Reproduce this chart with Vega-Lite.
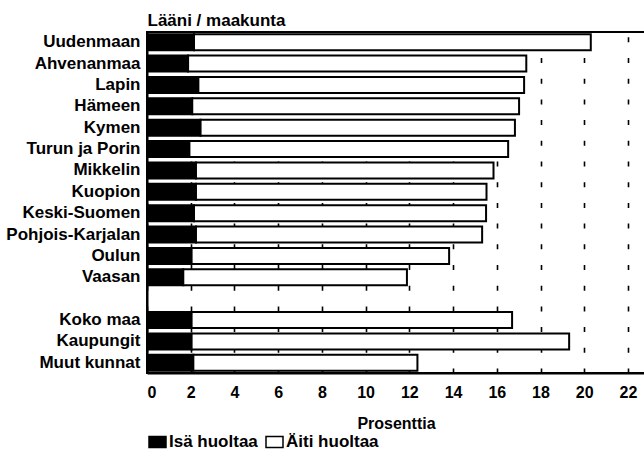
{
  "$schema": "https://vega.github.io/schema/vega-lite/v6.json",
  "width": 498,
  "height": 341,
  "autosize": {"type": "none"},
  "padding": {"left": 147, "top": 32, "right": 0, "bottom": 80},
  "background": "white",
  "config": {
    "view": {"stroke": "black", "strokeWidth": 2},
    "font": "Liberation Sans"
  },
  "data": {
    "values": [
      {"region": "Uudenmaan", "group": "Isä huoltaa", "value": 2.15},
      {"region": "Uudenmaan", "group": "Äiti huoltaa", "value": 18.15},
      {"region": "Ahvenanmaa", "group": "Isä huoltaa", "value": 1.88},
      {"region": "Ahvenanmaa", "group": "Äiti huoltaa", "value": 15.47},
      {"region": "Lapin", "group": "Isä huoltaa", "value": 2.35},
      {"region": "Lapin", "group": "Äiti huoltaa", "value": 14.9},
      {"region": "Hämeen", "group": "Isä huoltaa", "value": 2.07},
      {"region": "Hämeen", "group": "Äiti huoltaa", "value": 14.95},
      {"region": "Kymen", "group": "Isä huoltaa", "value": 2.45},
      {"region": "Kymen", "group": "Äiti huoltaa", "value": 14.38},
      {"region": "Turun ja Porin", "group": "Isä huoltaa", "value": 1.94},
      {"region": "Turun ja Porin", "group": "Äiti huoltaa", "value": 14.58},
      {"region": "Mikkelin", "group": "Isä huoltaa", "value": 2.24},
      {"region": "Mikkelin", "group": "Äiti huoltaa", "value": 13.61},
      {"region": "Kuopion", "group": "Isä huoltaa", "value": 2.24},
      {"region": "Kuopion", "group": "Äiti huoltaa", "value": 13.29},
      {"region": "Keski-Suomen", "group": "Isä huoltaa", "value": 2.15},
      {"region": "Keski-Suomen", "group": "Äiti huoltaa", "value": 13.36},
      {"region": "Pohjois-Karjalan", "group": "Isä huoltaa", "value": 2.24},
      {"region": "Pohjois-Karjalan", "group": "Äiti huoltaa", "value": 13.09},
      {"region": "Oulun", "group": "Isä huoltaa", "value": 2.04},
      {"region": "Oulun", "group": "Äiti huoltaa", "value": 11.78},
      {"region": "Vaasan", "group": "Isä huoltaa", "value": 1.66},
      {"region": "Vaasan", "group": "Äiti huoltaa", "value": 10.23},
      {"region": "Koko maa", "group": "Isä huoltaa", "value": 2.04},
      {"region": "Koko maa", "group": "Äiti huoltaa", "value": 14.66},
      {"region": "Kaupungit", "group": "Isä huoltaa", "value": 2.04},
      {"region": "Kaupungit", "group": "Äiti huoltaa", "value": 17.27},
      {"region": "Muut kunnat", "group": "Isä huoltaa", "value": 2.12},
      {"region": "Muut kunnat", "group": "Äiti huoltaa", "value": 10.25}
    ]
  },
  "mark": {"type": "bar", "stroke": "black", "strokeWidth": 2},
  "encoding": {
    "y": {
      "field": "region",
      "type": "nominal",
      "scale": {
        "domain": ["Uudenmaan", "Ahvenanmaa", "Lapin", "Hämeen", "Kymen", "Turun ja Porin", "Mikkelin", "Kuopion", "Keski-Suomen", "Pohjois-Karjalan", "Oulun", "Vaasan", " ", "Koko maa", "Kaupungit", "Muut kunnat"],
        "paddingInner": 0.25,
        "paddingOuter": 0.1
      },
      "axis": {
        "title": "Lääni / maakunta",
        "titleAngle": 0,
        "titleAlign": "left",
        "titleBaseline": "alphabetic",
        "titleX": 0,
        "titleY": -7,
        "titleFontSize": 17,
        "titleFontWeight": "bold",
        "titleColor": "black",
        "labelFontSize": 17,
        "labelFontWeight": "bold",
        "labelColor": "black",
        "labelPadding": 7,
        "labelLimit": 200,
        "ticks": false,
        "domain": true,
        "domainColor": "black",
        "domainWidth": 2,
        "grid": false
      }
    },
    "x": {
      "field": "value",
      "type": "quantitative",
      "stack": "zero",
      "scale": {"domain": [0, 22.78], "nice": false},
      "axis": {
        "title": "Prosenttia",
        "values": [0, 2, 4, 6, 8, 10, 12, 14, 16, 18, 20, 22],
        "titleFontSize": 16,
        "titleFontWeight": "bold",
        "titleColor": "black",
        "titleBaseline": "alphabetic",
        "titleY": 55,
        "labelFontSize": 16,
        "labelFontWeight": "bold",
        "labelColor": "black",
        "labelPadding": 11,
        "ticks": false,
        "domain": true,
        "domainColor": "black",
        "domainWidth": 2,
        "grid": true,
        "gridColor": "black",
        "gridWidth": 1.6,
        "gridDash": [5, 15.7],
        "gridOpacity": 1
      }
    },
    "color": {
      "field": "group",
      "type": "nominal",
      "scale": {"domain": ["Isä huoltaa", "Äiti huoltaa"], "range": ["black", "white"]},
      "legend": {
        "title": null,
        "orient": "none",
        "direction": "horizontal",
        "legendX": 1,
        "legendY": 400,
        "symbolType": "M-1,-0.65H1V0.65H-1Z",
        "symbolSize": 289,
        "symbolStrokeColor": "black",
        "symbolStrokeWidth": 1.5,
        "symbolOpacity": 1,
        "labelFontSize": 17,
        "labelFontWeight": "bold",
        "labelColor": "black",
        "labelOffset": 2,
        "columnPadding": 5,
        "labelLimit": 200
      }
    }
  }
}
